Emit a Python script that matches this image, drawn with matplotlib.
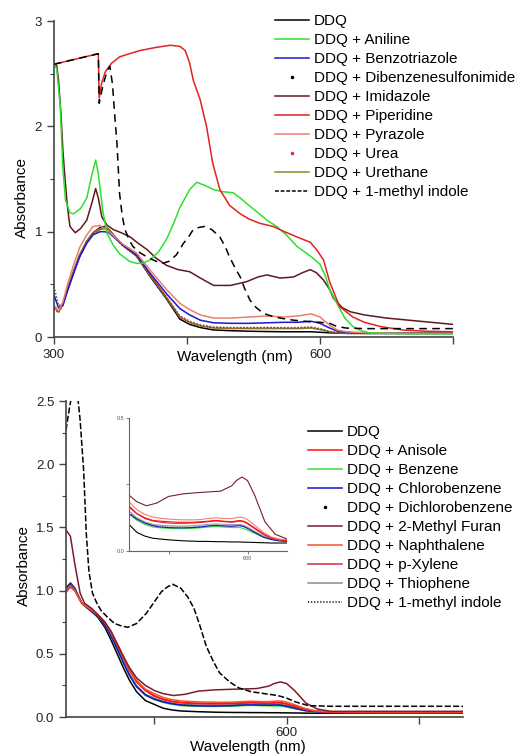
import numpy as np
import matplotlib.pyplot as plt
from matplotlib.lines import Line2D

plt.rcParams['font.family'] = ['Liberation Sans', 'DejaVu Sans']

# ---------------- top panel: DDQ + N-donors ----------------
wl_a = [300, 305, 310, 315, 322, 329, 337, 344, 352, 357, 362, 370, 378, 393, 408, 427, 442, 453,
        465, 480, 500, 520, 540, 560, 575, 590, 600, 611, 620, 630, 650, 700, 750]
ddq_a = [0.29, 0.24, 0.31, 0.45, 0.62, 0.78, 0.91, 0.99, 1.04, 1.05, 1.02, 0.94, 0.87, 0.77, 0.58, 0.36, 0.17, 0.12,
         0.09, 0.067, 0.06, 0.055, 0.052, 0.05, 0.05, 0.05, 0.045, 0.04, 0.037, 0.035, 0.035, 0.035, 0.035]
benzotriazole = [0.40, 0.28, 0.30, 0.43, 0.60, 0.76, 0.89, 0.97, 1.00, 1.00, 0.99, 0.93, 0.87, 0.78, 0.61, 0.41, 0.27, 0.21,
                 0.16, 0.135, 0.13, 0.13, 0.135, 0.14, 0.14, 0.15, 0.13, 0.085, 0.055, 0.045, 0.035, 0.035, 0.035]
dibenzsulf = [0.48, 0.30, 0.31, 0.44, 0.61, 0.77, 0.90, 0.98, 1.02, 1.03, 1.01, 0.93, 0.86, 0.77, 0.59, 0.38, 0.20, 0.15,
              0.115, 0.095, 0.09, 0.09, 0.09, 0.085, 0.085, 0.09, 0.075, 0.05, 0.04, 0.035, 0.035, 0.035, 0.035]
pyrazole = [0.30, 0.25, 0.33, 0.49, 0.68, 0.85, 0.97, 1.05, 1.06, 1.03, 1.00, 0.94, 0.88, 0.80, 0.64, 0.45, 0.32, 0.26,
            0.21, 0.18, 0.18, 0.19, 0.20, 0.19, 0.20, 0.22, 0.19, 0.11, 0.065, 0.05, 0.04, 0.035, 0.035]
urea = [0.27, 0.23, 0.30, 0.44, 0.61, 0.77, 0.90, 0.98, 1.02, 1.03, 1.01, 0.94, 0.87, 0.78, 0.60, 0.37, 0.19, 0.14,
        0.11, 0.09, 0.085, 0.085, 0.09, 0.09, 0.09, 0.095, 0.08, 0.05, 0.04, 0.035, 0.035, 0.035, 0.035]
urethane = [0.28, 0.24, 0.31, 0.45, 0.62, 0.78, 0.91, 0.99, 1.03, 1.04, 1.02, 0.94, 0.87, 0.77, 0.59, 0.37, 0.19, 0.14,
            0.105, 0.085, 0.08, 0.08, 0.08, 0.08, 0.08, 0.085, 0.07, 0.05, 0.04, 0.035, 0.035, 0.035, 0.035]

wl_anil = [300, 303, 307, 310, 313, 318, 322, 330, 337, 343, 347, 350, 355, 360, 367, 374, 385, 393, 400, 408,
           418, 427, 435, 442, 453, 461, 470, 480, 490, 502, 510, 517, 530, 540, 551, 562, 574, 584, 592, 600,
           606, 611, 619, 628, 637, 646, 656, 700, 750]
aniline = [2.59, 2.55, 2.20, 1.60, 1.30, 1.18, 1.17, 1.22, 1.32, 1.55, 1.68, 1.55, 1.20, 0.98, 0.87, 0.79, 0.72, 0.70, 0.70, 0.73,
           0.81, 0.93, 1.08, 1.23, 1.40, 1.47, 1.44, 1.40, 1.38, 1.37, 1.32, 1.27, 1.18, 1.11, 1.05, 0.97, 0.86, 0.80, 0.75, 0.69,
           0.58, 0.45, 0.32, 0.18, 0.10, 0.06, 0.04, 0.03, 0.03]

wl_pip = [300, 350, 351, 354, 358, 365, 374, 385, 397, 415, 431, 442, 448, 453, 457, 465, 472, 479, 487, 498,
          510, 520, 532, 547, 560, 574, 589, 597, 604, 611, 622, 637, 650, 668, 694, 720, 750]
piperidine = [2.59, 2.69, 2.27, 2.42, 2.52, 2.60, 2.66, 2.69, 2.72, 2.75, 2.77, 2.76, 2.72, 2.60, 2.44, 2.25, 2.00, 1.65, 1.40, 1.25,
              1.17, 1.12, 1.08, 1.05, 1.00, 0.95, 0.90, 0.82, 0.73, 0.52, 0.29, 0.19, 0.14, 0.10, 0.066, 0.055, 0.05]

wl_imid = [300, 303, 305, 308, 310, 312, 315, 318, 324, 330, 337, 343, 347, 350, 354, 360, 367, 376, 386, 395,
           405, 415, 427, 440, 453, 465, 480, 499, 517, 530, 540, 555, 570, 580, 589, 596, 604, 611, 615, 625,
           634, 650, 675, 700, 725, 750]
imidazole = [2.59, 2.58, 2.45, 2.10, 1.78, 1.55, 1.25, 1.05, 0.99, 1.03, 1.11, 1.28, 1.41, 1.32, 1.14, 1.06, 1.02, 0.99, 0.95, 0.89,
             0.83, 0.75, 0.68, 0.64, 0.62, 0.56, 0.49, 0.49, 0.525, 0.57, 0.59, 0.56, 0.57, 0.61, 0.64, 0.61, 0.54, 0.45, 0.37, 0.28,
             0.24, 0.21, 0.18, 0.16, 0.14, 0.12]

wl_ind = [300, 350, 351, 355, 360, 363, 366, 369, 371, 373, 374, 377, 380, 385, 389, 397, 405, 415, 423, 430,
          438, 446, 451, 457, 463, 470, 478, 487, 493, 498, 504, 510, 515, 521, 528, 536, 545, 555, 570, 589,
          600, 611, 619, 630, 650, 700, 750]
indole_a = [2.59, 2.69, 2.22, 2.38, 2.53, 2.57, 2.40, 2.05, 1.84, 1.52, 1.36, 1.15, 1.02, 0.92, 0.86, 0.80, 0.76, 0.72, 0.70, 0.72,
            0.78, 0.89, 0.94, 1.02, 1.04, 1.05, 1.02, 0.95, 0.86, 0.76, 0.66, 0.57, 0.46, 0.35, 0.28, 0.225, 0.20, 0.18, 0.16, 0.145,
            0.14, 0.13, 0.10, 0.085, 0.08, 0.08, 0.08]

# ---------------- bottom panel: DDQ + aromatics ----------------
wl_b = [350, 355, 360, 368, 378, 386, 394, 401, 408, 415, 422, 430, 440, 450, 460, 470, 480, 490, 500, 510,
        520, 530, 540, 550, 560, 570, 580, 590, 595, 600, 610, 620, 630, 640, 650, 700, 750, 800]
ddq_b = [1.02, 1.06, 1.02, 0.90, 0.84, 0.79, 0.71, 0.61, 0.50, 0.39, 0.29, 0.20, 0.13, 0.10, 0.07, 0.056, 0.048, 0.045, 0.042, 0.04,
         0.038, 0.037, 0.036, 0.036, 0.035, 0.035, 0.034, 0.034, 0.033, 0.033, 0.032, 0.031, 0.03, 0.03, 0.03, 0.03, 0.03, 0.03]
anisole = [0.99, 1.03, 1.00, 0.90, 0.85, 0.81, 0.75, 0.67, 0.57, 0.47, 0.37, 0.28, 0.21, 0.165, 0.14, 0.125, 0.115, 0.112, 0.11, 0.108,
           0.108, 0.108, 0.11, 0.112, 0.115, 0.112, 0.11, 0.115, 0.112, 0.105, 0.085, 0.065, 0.05, 0.043, 0.04, 0.038, 0.038, 0.038]
benzene = [1.01, 1.05, 1.01, 0.90, 0.84, 0.80, 0.73, 0.64, 0.54, 0.43, 0.33, 0.24, 0.17, 0.14, 0.115, 0.10, 0.09, 0.087, 0.085, 0.084,
           0.084, 0.085, 0.087, 0.09, 0.092, 0.09, 0.088, 0.088, 0.085, 0.078, 0.065, 0.052, 0.044, 0.04, 0.037, 0.035, 0.035, 0.035]
chlorobenzene = [1.02, 1.05, 1.01, 0.90, 0.84, 0.80, 0.73, 0.64, 0.54, 0.43, 0.33, 0.24, 0.175, 0.14, 0.12, 0.105, 0.095, 0.09, 0.088, 0.087,
                 0.087, 0.088, 0.09, 0.094, 0.096, 0.094, 0.093, 0.095, 0.092, 0.085, 0.068, 0.052, 0.043, 0.038, 0.036, 0.034, 0.034, 0.034]
dichlorobenzene = [1.02, 1.05, 1.01, 0.90, 0.84, 0.80, 0.73, 0.64, 0.54, 0.43, 0.33, 0.24, 0.175, 0.145, 0.12, 0.105, 0.097, 0.093, 0.09, 0.09,
                   0.09, 0.09, 0.092, 0.095, 0.097, 0.095, 0.094, 0.096, 0.093, 0.086, 0.07, 0.054, 0.045, 0.04, 0.037, 0.035, 0.035, 0.035]
naphthalene = [1.00, 1.04, 1.00, 0.90, 0.85, 0.81, 0.75, 0.67, 0.58, 0.48, 0.38, 0.29, 0.22, 0.185, 0.155, 0.138, 0.128, 0.123, 0.12, 0.118,
               0.117, 0.117, 0.118, 0.122, 0.125, 0.122, 0.122, 0.127, 0.125, 0.118, 0.095, 0.07, 0.053, 0.045, 0.042, 0.04, 0.04, 0.04]
pxylene = [0.99, 1.03, 1.00, 0.90, 0.85, 0.81, 0.75, 0.67, 0.57, 0.47, 0.37, 0.28, 0.21, 0.17, 0.14, 0.122, 0.113, 0.108, 0.105, 0.104,
           0.104, 0.105, 0.107, 0.11, 0.113, 0.11, 0.108, 0.112, 0.11, 0.102, 0.082, 0.062, 0.048, 0.042, 0.039, 0.037, 0.037, 0.037]
thiophene = [1.01, 1.05, 1.01, 0.90, 0.84, 0.80, 0.73, 0.64, 0.54, 0.44, 0.34, 0.25, 0.18, 0.15, 0.125, 0.11, 0.10, 0.097, 0.095, 0.094,
             0.094, 0.095, 0.097, 0.10, 0.102, 0.10, 0.099, 0.10, 0.097, 0.09, 0.072, 0.055, 0.045, 0.04, 0.037, 0.035, 0.035, 0.035]

wl_mf = [350, 355, 360, 366, 371, 379, 386, 394, 401, 408, 415, 422, 430, 440, 450, 460, 472, 485, 500, 519,
         540, 566, 580, 586, 593, 600, 609, 622, 635, 650, 700, 750, 800]
methylfuran = [1.48, 1.43, 1.21, 0.98, 0.90, 0.86, 0.81, 0.75, 0.68, 0.58, 0.48, 0.39, 0.31, 0.25, 0.21, 0.185, 0.17, 0.18, 0.205, 0.215,
               0.22, 0.225, 0.245, 0.265, 0.278, 0.265, 0.21, 0.11, 0.063, 0.045, 0.045, 0.045, 0.045]

wl_ib = [350, 354, 358, 362, 366, 370, 373, 376, 380, 385, 390, 397, 405, 413, 420, 430, 441, 450, 458, 465,
         471, 480, 488, 495, 501, 509, 517, 524, 535, 546, 560, 575, 590, 600, 610, 625, 650, 700, 750, 800]
indole_b = [2.27, 2.45, 2.60, 2.62, 2.35, 1.95, 1.45, 1.15, 0.98, 0.90, 0.84, 0.79, 0.74, 0.72, 0.71, 0.74, 0.82, 0.91, 0.99, 1.03,
            1.05, 1.02, 0.95, 0.86, 0.74, 0.56, 0.44, 0.35, 0.28, 0.23, 0.20, 0.185, 0.17, 0.15, 0.12, 0.09, 0.085, 0.085, 0.085, 0.085]

LW = 1.1
fig = plt.figure(figsize=(5.21, 7.55), dpi=100)


def style_axes(ax, labsize=9.5):
    ax.spines['top'].set_visible(False)
    ax.spines['right'].set_visible(False)
    for s in ('left', 'bottom'):
        ax.spines[s].set_color('#444444')
        ax.spines[s].set_linewidth(1.2)
    ax.tick_params(which='both', direction='out', color='#444444', labelsize=labsize, labelcolor='#222222')
    ax.tick_params(which='major', length=5, width=1.0)
    ax.tick_params(which='minor', length=3, width=0.8)


# ---- top ----
ax1 = fig.add_axes([0.1036, 0.5536, 0.766, 0.4185])
ax1.plot(wl_a, ddq_a, color='black', lw=LW)
ax1.plot(wl_a, urethane, color='#8C8C22', lw=LW)
ax1.plot(wl_a, urea, color='#E02828', lw=LW, ls=(0, (1, 1.2)))
ax1.plot(wl_a, dibenzsulf, color='#555555', lw=LW, ls=(0, (1, 1.2)))
ax1.plot(wl_a, benzotriazole, color='#1A1AD0', lw=LW)
ax1.plot(wl_a, pyrazole, color='#EE7E68', lw=LW)
ax1.plot(wl_imid, imidazole, color='#5E1A1E', lw=LW)
ax1.plot(wl_anil, aniline, color='#2EE02E', lw=LW)
ax1.plot(wl_pip, piperidine, color='#E32222', lw=LW)
ax1.plot(wl_ind, indole_a, color='black', lw=LW, ls=(0, (5, 3.5)))

ax1.set_xlim(300, 750)
ax1.set_ylim(0, 3)
ax1.set_xticks([300, 450, 600, 750])
ax1.set_xticklabels(['300', '', '600', ''])
ax1.set_yticks([0, 1, 2, 3])
ax1.set_yticks([0.5, 1.5, 2.5], minor=True)
style_axes(ax1)
ax1.set_xlabel('Wavelength (nm)', fontsize=11)
ax1.set_ylabel('Absorbance', fontsize=11)
ax1.xaxis.set_label_coords(0.454, -0.04)
ax1.yaxis.set_label_coords(-0.062, 0.443)

top_labels = ['DDQ', 'DDQ + Aniline', 'DDQ + Benzotriazole', 'DDQ + Dibenzenesulfonimide',
              'DDQ + Imidazole', 'DDQ + Piperidine', 'DDQ + Pyrazole', 'DDQ + Urea',
              'DDQ + Urethane', 'DDQ + 1-methyl indole']
top_handles = [
    Line2D([], [], color='black', lw=LW),
    Line2D([], [], color='#2EE02E', lw=LW),
    Line2D([], [], color='#1A1AD0', lw=LW),
    Line2D([], [], color='black', ls='none', marker='.', ms=3),
    Line2D([], [], color='#5E1A1E', lw=LW),
    Line2D([], [], color='#E32222', lw=LW),
    Line2D([], [], color='#EE7E68', lw=LW),
    Line2D([], [], color='#E02828', ls='none', marker='.', ms=3),
    Line2D([], [], color='#8C8C22', lw=LW),
    Line2D([], [], color='black', lw=LW, ls=(0, (2.5, 1.2))),
]
fig.legend(top_handles, top_labels, loc='upper left', bbox_to_anchor=(275 / 521, 1 - 14 / 755),
           frameon=False, fontsize=11, borderpad=0, borderaxespad=0, labelspacing=0.33,
           handlelength=2.25, handletextpad=0.3)

# ---- bottom ----
ax2 = fig.add_axes([0.1267, 0.0503, 0.762, 0.4185])
ax2.plot(wl_b, ddq_b, color='black', lw=LW)
ax2.plot(wl_b, thiophene, color='#8C8C8C', lw=LW)
ax2.plot(wl_b, dichlorobenzene, color='#333333', lw=LW, ls=(0, (1, 1.2)))
ax2.plot(wl_b, benzene, color='#3BE03B', lw=LW)
ax2.plot(wl_b, chlorobenzene, color='#1515C8', lw=LW)
ax2.plot(wl_b, pxylene, color='#D42A45', lw=LW)
ax2.plot(wl_b, anisole, color='#FF1010', lw=LW)
ax2.plot(wl_b, naphthalene, color='#F2542D', lw=LW)
ax2.plot(wl_mf, methylfuran, color='#7A1E2C', lw=LW)
ax2.plot(wl_ib, indole_b, color='black', lw=LW, ls=(0, (4, 1.5)))

ax2.set_xlim(350, 800)
ax2.set_ylim(0, 2.5)
ax2.set_xticks([450, 600, 750])
ax2.set_xticklabels(['', '600', ''])
ax2.set_yticks([0, 0.5, 1.0, 1.5, 2.0, 2.5])
ax2.set_yticklabels(['0.0', '0.5', '1.0', '1.5', '2.0', '2.5'])
ax2.set_yticks([0.25, 0.75, 1.25, 1.75, 2.25], minor=True)
style_axes(ax2)
ax2.tick_params(axis='x', pad=2)
ax2.set_xlabel('Wavelength (nm)', fontsize=11)
ax2.set_ylabel('Absorbance', fontsize=11)
ax2.xaxis.set_label_coords(0.458, -0.074)
ax2.yaxis.set_label_coords(-0.088, 0.481)

bot_labels = ['DDQ', 'DDQ + Anisole', 'DDQ + Benzene', 'DDQ + Chlorobenzene', 'DDQ + Dichlorobenzene',
              'DDQ + 2-Methyl Furan', 'DDQ + Naphthalene', 'DDQ + p-Xylene', 'DDQ + Thiophene',
              'DDQ + 1-methyl indole']
bot_handles = [
    Line2D([], [], color='black', lw=LW),
    Line2D([], [], color='#FF1010', lw=LW),
    Line2D([], [], color='#3BE03B', lw=LW),
    Line2D([], [], color='#1515C8', lw=LW),
    Line2D([], [], color='black', ls='none', marker='.', ms=3),
    Line2D([], [], color='#7A1E2C', lw=LW),
    Line2D([], [], color='#F2542D', lw=LW),
    Line2D([], [], color='#D42A45', lw=LW),
    Line2D([], [], color='#8C8C8C', lw=LW),
    Line2D([], [], color='black', lw=LW, ls=(0, (0.8, 1.2))),
]
fig.legend(bot_handles, bot_labels, loc='upper left', bbox_to_anchor=(308 / 521, 1 - 425 / 755),
           frameon=False, fontsize=11, borderpad=0, borderaxespad=0, labelspacing=0.33,
           handlelength=2.25, handletextpad=0.3)

# ---- inset ----
axi = fig.add_axes([0.2476, 0.2702, 0.3033, 0.1762])
axi.plot(wl_b, ddq_b, color='black', lw=0.8)
axi.plot(wl_b, thiophene, color='#A0A0A0', lw=0.8)
axi.plot(wl_b, dichlorobenzene, color='#555555', lw=0.8, ls=(0, (1, 1.2)))
axi.plot(wl_b, benzene, color='#3BE03B', lw=0.8)
axi.plot(wl_b, chlorobenzene, color='#1515C8', lw=0.8)
axi.plot(wl_b, pxylene, color='#D42A45', lw=0.8)
axi.plot(wl_b, anisole, color='#FF1010', lw=0.8)
axi.plot(wl_b, naphthalene, color='#F28070', lw=0.8)
axi.plot(wl_mf, methylfuran, color='#7A1E2C', lw=0.8)
axi.set_xlim(450, 650)
axi.set_ylim(0, 0.5)
axi.set_xticks([500, 600])
axi.set_xticklabels(['', '600'])
axi.set_yticks([0, 0.25, 0.5])
axi.set_yticklabels(['0.0', '', '0.5'])
for s in ('top', 'right'):
    axi.spines[s].set_visible(False)
for s in ('left', 'bottom'):
    axi.spines[s].set_color('#666666')
    axi.spines[s].set_linewidth(0.8)
axi.tick_params(direction='out', length=2, width=0.6, color='#666666', labelsize=4, labelcolor='#555555', pad=1.5)

fig.savefig('out.png', dpi=100)
